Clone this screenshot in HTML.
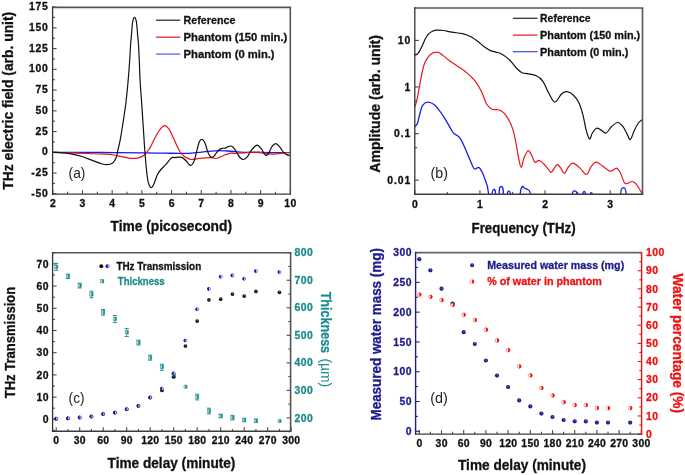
<!DOCTYPE html>
<html><head><meta charset="utf-8"><title>Figure</title>
<style>
html,body{margin:0;padding:0;background:#fff;}
body{width:685px;height:475px;overflow:hidden;font-family:"Liberation Sans", sans-serif;}
svg{display:block;will-change:transform;}
</style></head><body>
<svg width="685" height="475" viewBox="0 0 685 475" font-family='"Liberation Sans", sans-serif'>
<rect width="685" height="475" fill="#fff"/>
<line x1="52.8" y1="194.1" x2="52.8" y2="190.1" stroke="#4a4a4a" stroke-width="1.1"/>
<line x1="67.64" y1="194.1" x2="67.64" y2="191.8" stroke="#4a4a4a" stroke-width="1.1"/>
<line x1="82.49" y1="194.1" x2="82.49" y2="190.1" stroke="#4a4a4a" stroke-width="1.1"/>
<line x1="97.33" y1="194.1" x2="97.33" y2="191.8" stroke="#4a4a4a" stroke-width="1.1"/>
<line x1="112.17" y1="194.1" x2="112.17" y2="190.1" stroke="#4a4a4a" stroke-width="1.1"/>
<line x1="127.02" y1="194.1" x2="127.02" y2="191.8" stroke="#4a4a4a" stroke-width="1.1"/>
<line x1="141.86" y1="194.1" x2="141.86" y2="190.1" stroke="#4a4a4a" stroke-width="1.1"/>
<line x1="156.71" y1="194.1" x2="156.71" y2="191.8" stroke="#4a4a4a" stroke-width="1.1"/>
<line x1="171.55" y1="194.1" x2="171.55" y2="190.1" stroke="#4a4a4a" stroke-width="1.1"/>
<line x1="186.39" y1="194.1" x2="186.39" y2="191.8" stroke="#4a4a4a" stroke-width="1.1"/>
<line x1="201.24" y1="194.1" x2="201.24" y2="190.1" stroke="#4a4a4a" stroke-width="1.1"/>
<line x1="216.08" y1="194.1" x2="216.08" y2="191.8" stroke="#4a4a4a" stroke-width="1.1"/>
<line x1="230.93" y1="194.1" x2="230.93" y2="190.1" stroke="#4a4a4a" stroke-width="1.1"/>
<line x1="245.77" y1="194.1" x2="245.77" y2="191.8" stroke="#4a4a4a" stroke-width="1.1"/>
<line x1="260.61" y1="194.1" x2="260.61" y2="190.1" stroke="#4a4a4a" stroke-width="1.1"/>
<line x1="275.46" y1="194.1" x2="275.46" y2="191.8" stroke="#4a4a4a" stroke-width="1.1"/>
<line x1="290.3" y1="194.1" x2="290.3" y2="190.1" stroke="#4a4a4a" stroke-width="1.1"/>
<line x1="52.6" y1="193.79" x2="56.6" y2="193.79" stroke="#4a4a4a" stroke-width="1.1"/>
<line x1="52.6" y1="183.42" x2="54.9" y2="183.42" stroke="#4a4a4a" stroke-width="1.1"/>
<line x1="52.6" y1="173.04" x2="56.6" y2="173.04" stroke="#4a4a4a" stroke-width="1.1"/>
<line x1="52.6" y1="162.67" x2="54.9" y2="162.67" stroke="#4a4a4a" stroke-width="1.1"/>
<line x1="52.6" y1="152.3" x2="56.6" y2="152.3" stroke="#4a4a4a" stroke-width="1.1"/>
<line x1="52.6" y1="141.93" x2="54.9" y2="141.93" stroke="#4a4a4a" stroke-width="1.1"/>
<line x1="52.6" y1="131.56" x2="56.6" y2="131.56" stroke="#4a4a4a" stroke-width="1.1"/>
<line x1="52.6" y1="121.18" x2="54.9" y2="121.18" stroke="#4a4a4a" stroke-width="1.1"/>
<line x1="52.6" y1="110.81" x2="56.6" y2="110.81" stroke="#4a4a4a" stroke-width="1.1"/>
<line x1="52.6" y1="100.44" x2="54.9" y2="100.44" stroke="#4a4a4a" stroke-width="1.1"/>
<line x1="52.6" y1="90.07" x2="56.6" y2="90.07" stroke="#4a4a4a" stroke-width="1.1"/>
<line x1="52.6" y1="79.69" x2="54.9" y2="79.69" stroke="#4a4a4a" stroke-width="1.1"/>
<line x1="52.6" y1="69.32" x2="56.6" y2="69.32" stroke="#4a4a4a" stroke-width="1.1"/>
<line x1="52.6" y1="58.95" x2="54.9" y2="58.95" stroke="#4a4a4a" stroke-width="1.1"/>
<line x1="52.6" y1="48.58" x2="56.6" y2="48.58" stroke="#4a4a4a" stroke-width="1.1"/>
<line x1="52.6" y1="38.21" x2="54.9" y2="38.21" stroke="#4a4a4a" stroke-width="1.1"/>
<line x1="52.6" y1="27.83" x2="56.6" y2="27.83" stroke="#4a4a4a" stroke-width="1.1"/>
<line x1="52.6" y1="17.46" x2="54.9" y2="17.46" stroke="#4a4a4a" stroke-width="1.1"/>
<line x1="52.6" y1="7.09" x2="56.6" y2="7.09" stroke="#4a4a4a" stroke-width="1.1"/>
<text x="52.8" y="206.8" font-size="10.4" font-weight="bold" fill="#111" stroke="#111" stroke-width="0.3" text-anchor="middle">2</text>
<text x="82.49" y="206.8" font-size="10.4" font-weight="bold" fill="#111" stroke="#111" stroke-width="0.3" text-anchor="middle">3</text>
<text x="112.17" y="206.8" font-size="10.4" font-weight="bold" fill="#111" stroke="#111" stroke-width="0.3" text-anchor="middle">4</text>
<text x="141.86" y="206.8" font-size="10.4" font-weight="bold" fill="#111" stroke="#111" stroke-width="0.3" text-anchor="middle">5</text>
<text x="171.55" y="206.8" font-size="10.4" font-weight="bold" fill="#111" stroke="#111" stroke-width="0.3" text-anchor="middle">6</text>
<text x="201.24" y="206.8" font-size="10.4" font-weight="bold" fill="#111" stroke="#111" stroke-width="0.3" text-anchor="middle">7</text>
<text x="230.93" y="206.8" font-size="10.4" font-weight="bold" fill="#111" stroke="#111" stroke-width="0.3" text-anchor="middle">8</text>
<text x="260.61" y="206.8" font-size="10.4" font-weight="bold" fill="#111" stroke="#111" stroke-width="0.3" text-anchor="middle">9</text>
<text x="290.53" y="206.8" font-size="10.4" font-weight="bold" fill="#111" stroke="#111" stroke-width="0.3" text-anchor="middle" letter-spacing="0.45">10</text>
<text x="48.4" y="196.79" font-size="10.4" font-weight="bold" fill="#111" stroke="#111" stroke-width="0.3" text-anchor="end" letter-spacing="0.7">-50</text>
<text x="48.4" y="176.04" font-size="10.4" font-weight="bold" fill="#111" stroke="#111" stroke-width="0.3" text-anchor="end" letter-spacing="0.7">-25</text>
<text x="47.7" y="155.3" font-size="10.4" font-weight="bold" fill="#111" stroke="#111" stroke-width="0.3" text-anchor="end">0</text>
<text x="48.4" y="134.56" font-size="10.4" font-weight="bold" fill="#111" stroke="#111" stroke-width="0.3" text-anchor="end" letter-spacing="0.7">25</text>
<text x="48.4" y="113.81" font-size="10.4" font-weight="bold" fill="#111" stroke="#111" stroke-width="0.3" text-anchor="end" letter-spacing="0.7">50</text>
<text x="48.4" y="93.07" font-size="10.4" font-weight="bold" fill="#111" stroke="#111" stroke-width="0.3" text-anchor="end" letter-spacing="0.7">75</text>
<text x="48.4" y="72.32" font-size="10.4" font-weight="bold" fill="#111" stroke="#111" stroke-width="0.3" text-anchor="end" letter-spacing="0.7">100</text>
<text x="48.4" y="51.58" font-size="10.4" font-weight="bold" fill="#111" stroke="#111" stroke-width="0.3" text-anchor="end" letter-spacing="0.7">125</text>
<text x="48.4" y="30.83" font-size="10.4" font-weight="bold" fill="#111" stroke="#111" stroke-width="0.3" text-anchor="end" letter-spacing="0.7">150</text>
<text x="48.4" y="10.09" font-size="10.4" font-weight="bold" fill="#111" stroke="#111" stroke-width="0.3" text-anchor="end" letter-spacing="0.7">175</text>
<path d="M52.8,152.3 C60.67,152.33 84.63,152.4 100,152.5 C115.37,152.6 134.5,152.8 145,152.9 C155.5,153 156.33,153.02 163,153.1 C169.67,153.18 179.93,153.43 185,153.4 C190.07,153.37 190.6,153.12 193.4,152.9 C196.2,152.68 198.98,152.38 201.8,152.1 C204.62,151.82 207.48,151.45 210.3,151.2 C213.12,150.95 215.9,150.63 218.7,150.6 C221.5,150.57 224.38,150.83 227.1,151 C229.82,151.17 232.3,151.38 235,151.6 C237.7,151.82 239.13,152.15 243.3,152.3 C247.47,152.45 255.15,152.45 260,152.5 C264.85,152.55 268.52,152.58 272.4,152.6 C276.28,152.62 280.37,152.6 283.3,152.6 C286.23,152.6 288.88,152.6 290,152.6" fill="none" stroke="#1a1aee" stroke-width="1.3" stroke-linejoin="round" stroke-linecap="round"/>
<path d="M52.8,152.3 C55.67,152.4 64.3,152.7 70,152.9 C75.7,153.1 82,153.32 87,153.5 C92,153.68 96.17,153.87 100,154 C103.83,154.13 107.37,154.05 110,154.3 C112.63,154.55 113.85,155.12 115.8,155.5 C117.75,155.88 119.75,156.22 121.7,156.6 C123.65,156.98 125.55,157.5 127.5,157.8 C129.45,158.1 131.75,158.33 133.4,158.4 C135.05,158.47 136.13,158.45 137.4,158.2 C138.67,157.95 139.92,157.4 141,156.9 C142.08,156.4 143.03,155.92 143.9,155.2 C144.77,154.48 145.18,153.82 146.2,152.6 C147.22,151.38 148.62,150.22 150,147.9 C151.38,145.58 152.97,141.58 154.5,138.7 C156.03,135.82 157.55,132.77 159.2,130.6 C160.85,128.43 162.82,126.03 164.4,125.7 C165.98,125.37 167.35,126.9 168.7,128.6 C170.05,130.3 171.23,133.27 172.5,135.9 C173.77,138.53 175.03,141.72 176.3,144.4 C177.57,147.08 178.68,149.95 180.1,152 C181.52,154.05 183.42,155.6 184.8,156.7 C186.18,157.8 187.25,158.13 188.4,158.6 C189.55,159.07 190.17,159.5 191.7,159.5 C193.23,159.5 195.22,158.88 197.6,158.6 C199.98,158.32 203.47,157.93 206,157.8 C208.53,157.67 211.12,157.68 212.8,157.8 C214.48,157.92 214.83,158.65 216.1,158.5 C217.37,158.35 218.85,157.52 220.4,156.9 C221.95,156.28 223.72,155.43 225.4,154.8 C227.08,154.17 228.9,153.33 230.5,153.1 C232.1,152.87 232.87,153.43 235,153.4 C237.13,153.37 240.8,153.08 243.3,152.9 C245.8,152.72 247.63,152.43 250,152.3 C252.37,152.17 255.5,152.05 257.5,152.1 C259.5,152.15 260.48,152.4 262,152.6 C263.52,152.8 264.72,153.05 266.6,153.3 C268.48,153.55 271.08,154.07 273.3,154.1 C275.52,154.13 277.97,153.75 279.9,153.5 C281.83,153.25 283.22,152.77 284.9,152.6 C286.58,152.43 289.15,152.52 290,152.5" fill="none" stroke="#e8141c" stroke-width="1.2" stroke-linejoin="round" stroke-linecap="round"/>
<path d="M52.8,152.3 C54.33,152.38 59.22,152.58 62,152.8 C64.78,153.02 66.3,153.02 69.5,153.6 C72.7,154.18 77.3,155.13 81.2,156.3 C85.1,157.47 89.6,159.38 92.9,160.6 C96.2,161.82 98.67,162.92 101,163.6 C103.33,164.28 104.95,164.82 106.9,164.7 C108.85,164.58 111.18,164.02 112.7,162.9 C114.22,161.78 115.12,160.17 116,158 C116.88,155.83 117.28,153.02 118,149.9 C118.72,146.78 119.47,143.78 120.3,139.3 C121.13,134.82 122.05,129.22 123,123 C123.95,116.78 125.15,109 126,102 C126.85,95 127.52,87.45 128.1,81 C128.68,74.55 129.08,69.33 129.5,63.3 C129.92,57.27 130.25,49.82 130.6,44.8 C130.95,39.78 131.25,37.03 131.6,33.2 C131.95,29.37 132.22,24.45 132.7,21.8 C133.18,19.15 133.88,17.3 134.5,17.3 C135.12,17.3 135.9,19.15 136.4,21.8 C136.9,24.45 137.15,29.37 137.5,33.2 C137.85,37.03 138.18,39.78 138.5,44.8 C138.82,49.82 139.13,57.27 139.4,63.3 C139.67,69.33 139.73,74.55 140.1,81 C140.47,87.45 141.12,95 141.6,102 C142.08,109 142.58,116.67 143,123 C143.42,129.33 143.78,135.23 144.1,140 C144.42,144.77 144.52,146.77 144.9,151.6 C145.28,156.43 145.87,163.98 146.4,169 C146.93,174.02 147.33,178.58 148.1,181.7 C148.87,184.82 150.03,187.32 151,187.7 C151.97,188.08 152.83,186.15 153.9,184 C154.97,181.85 156.23,177.22 157.4,174.8 C158.57,172.38 159.55,171.15 160.9,169.5 C162.25,167.85 163.77,166.82 165.5,164.9 C167.23,162.98 169.75,159.22 171.3,158 C172.85,156.78 173.07,157.7 174.8,157.6 C176.53,157.5 179.83,156.87 181.7,157.4 C183.57,157.93 184.55,159.47 186,160.8 C187.45,162.13 189.17,165.07 190.4,165.4 C191.63,165.73 192.55,164.35 193.4,162.8 C194.25,161.25 194.87,158.33 195.5,156.1 C196.13,153.87 196.57,151.78 197.2,149.4 C197.83,147.02 198.53,143.48 199.3,141.8 C200.07,140.12 200.95,139.3 201.8,139.3 C202.65,139.3 203.62,140.4 204.4,141.8 C205.18,143.2 205.88,145.88 206.5,147.7 C207.12,149.52 207.47,151.23 208.1,152.7 C208.73,154.17 209.67,155.72 210.3,156.5 C210.93,157.28 211.28,157.47 211.9,157.4 C212.52,157.33 213.22,156.88 214,156.1 C214.78,155.32 215.68,153.8 216.6,152.7 C217.52,151.6 218.6,150.22 219.5,149.5 C220.4,148.78 221.02,148.63 222,148.4 C222.98,148.17 224.42,148.37 225.4,148.1 C226.38,147.83 227.05,147.15 227.9,146.8 C228.75,146.45 229.72,146 230.5,146 C231.28,146 231.85,146.2 232.6,146.8 C233.35,147.4 234.18,148.45 235,149.6 C235.82,150.75 236.67,152.38 237.5,153.7 C238.33,155.02 238.97,156.53 240,157.5 C241.03,158.47 242.45,159.65 243.7,159.5 C244.95,159.35 246.18,158.18 247.5,156.6 C248.82,155.02 250.02,151.92 251.6,150 C253.18,148.08 255.33,145.25 257,145.1 C258.67,144.95 260.42,147.67 261.6,149.1 C262.78,150.53 263.33,152.65 264.1,153.7 C264.87,154.75 265.43,155.47 266.2,155.4 C266.97,155.33 267.8,154.68 268.7,153.3 C269.6,151.92 270.42,148.7 271.6,147.1 C272.78,145.5 274.42,143.7 275.8,143.7 C277.18,143.7 278.65,145.7 279.9,147.1 C281.15,148.5 282.18,150.85 283.3,152.1 C284.42,153.35 285.48,154.05 286.6,154.6 C287.72,155.15 289.43,155.27 290,155.4" fill="none" stroke="#111" stroke-width="1.2" stroke-linejoin="round" stroke-linecap="round"/>
<line x1="155.9" y1="20.2" x2="180.3" y2="20.2" stroke="#222" stroke-width="1.2"/>
<text x="183.6" y="24.1" font-size="11.5" font-weight="bold" fill="#111" stroke="#111" stroke-width="0.3" textLength="51.8" lengthAdjust="spacingAndGlyphs">Reference</text>
<line x1="155.9" y1="37.2" x2="180.3" y2="37.2" stroke="#e8141c" stroke-width="1.2"/>
<text x="183.6" y="41.1" font-size="11.5" font-weight="bold" fill="#111" stroke="#111" stroke-width="0.3" textLength="103.7" lengthAdjust="spacingAndGlyphs">Phantom (150 min.)</text>
<line x1="155.9" y1="54.1" x2="180.3" y2="54.1" stroke="#4a5af0" stroke-width="1.2"/>
<text x="183.6" y="58" font-size="11.5" font-weight="bold" fill="#111" stroke="#111" stroke-width="0.3" textLength="91" lengthAdjust="spacingAndGlyphs">Phantom (0 min.)</text>
<text x="68.6" y="177.6" font-size="15" font-weight="normal" fill="#222" textLength="16.8" lengthAdjust="spacingAndGlyphs">(a)</text>
<text x="110.5" y="230.7" font-size="14" font-weight="bold" fill="#111" stroke="#111" stroke-width="0.3" textLength="121.5" lengthAdjust="spacingAndGlyphs">Time (picosecond)</text>
<text x="12.8" y="189.7" font-size="14" font-weight="bold" fill="#111" stroke="#111" stroke-width="0.3" textLength="177.9" lengthAdjust="spacingAndGlyphs" transform="rotate(-90 12.8 189.7)">THz electric field (arb. unit)</text>
<line x1="51.9" y1="7.4" x2="291.1" y2="7.4" stroke="#555" stroke-width="1.6"/>
<line x1="290.3" y1="7.4" x2="290.3" y2="194.1" stroke="#555" stroke-width="1.6"/>
<line x1="51.9" y1="194.1" x2="291.1" y2="194.1" stroke="#3c3c3c" stroke-width="1.4"/>
<line x1="52.6" y1="6.6" x2="52.6" y2="194.8" stroke="#333" stroke-width="1.3"/>
<line x1="414.8" y1="194.2" x2="414.8" y2="190.2" stroke="#4a4a4a" stroke-width="1.1"/>
<line x1="447.37" y1="194.2" x2="447.37" y2="191.9" stroke="#4a4a4a" stroke-width="1.1"/>
<line x1="479.93" y1="194.2" x2="479.93" y2="190.2" stroke="#4a4a4a" stroke-width="1.1"/>
<line x1="512.5" y1="194.2" x2="512.5" y2="191.9" stroke="#4a4a4a" stroke-width="1.1"/>
<line x1="545.06" y1="194.2" x2="545.06" y2="190.2" stroke="#4a4a4a" stroke-width="1.1"/>
<line x1="577.62" y1="194.2" x2="577.62" y2="191.9" stroke="#4a4a4a" stroke-width="1.1"/>
<line x1="610.19" y1="194.2" x2="610.19" y2="190.2" stroke="#4a4a4a" stroke-width="1.1"/>
<line x1="414.8" y1="180.2" x2="418.8" y2="180.2" stroke="#4a4a4a" stroke-width="1.1"/>
<line x1="414.8" y1="133.6" x2="418.8" y2="133.6" stroke="#4a4a4a" stroke-width="1.1"/>
<line x1="414.8" y1="87" x2="418.8" y2="87" stroke="#4a4a4a" stroke-width="1.1"/>
<line x1="414.8" y1="40.4" x2="418.8" y2="40.4" stroke="#4a4a4a" stroke-width="1.1"/>
<line x1="414.8" y1="147.63" x2="417.1" y2="147.63" stroke="#4a4a4a" stroke-width="1.1"/>
<line x1="414.8" y1="101.03" x2="417.1" y2="101.03" stroke="#4a4a4a" stroke-width="1.1"/>
<line x1="414.8" y1="54.43" x2="417.1" y2="54.43" stroke="#4a4a4a" stroke-width="1.1"/>
<text x="414.8" y="207.8" font-size="10.4" font-weight="bold" fill="#111" stroke="#111" stroke-width="0.3" text-anchor="middle">0</text>
<text x="479.93" y="207.8" font-size="10.4" font-weight="bold" fill="#111" stroke="#111" stroke-width="0.3" text-anchor="middle">1</text>
<text x="545.06" y="207.8" font-size="10.4" font-weight="bold" fill="#111" stroke="#111" stroke-width="0.3" text-anchor="middle">2</text>
<text x="610.19" y="207.8" font-size="10.4" font-weight="bold" fill="#111" stroke="#111" stroke-width="0.3" text-anchor="middle">3</text>
<text x="411.2" y="44" font-size="10.4" font-weight="bold" fill="#111" stroke="#111" stroke-width="0.3" text-anchor="end" letter-spacing="0.9">10</text>
<text x="410.3" y="90.6" font-size="10.4" font-weight="bold" fill="#111" stroke="#111" stroke-width="0.3" text-anchor="end">1</text>
<text x="411.2" y="137.2" font-size="10.4" font-weight="bold" fill="#111" stroke="#111" stroke-width="0.3" text-anchor="end" letter-spacing="0.9">0.1</text>
<text x="411.2" y="183.8" font-size="10.4" font-weight="bold" fill="#111" stroke="#111" stroke-width="0.3" text-anchor="end" letter-spacing="0.9">0.01</text>
<clipPath id="cb"><rect x="414.8" y="8" width="227.7" height="186.8"/></clipPath>
<g clip-path="url(#cb)">
<path d="M415,126.5 C415.43,125.9 416.75,125.18 417.6,122.9 C418.45,120.62 419.27,115.73 420.1,112.8 C420.93,109.87 421.33,107.08 422.6,105.3 C423.87,103.52 425.8,102.22 427.7,102.1 C429.6,101.98 431.95,103.05 434,104.6 C436.05,106.15 438.08,108.9 440,111.4 C441.92,113.9 443.67,116.63 445.5,119.6 C447.33,122.57 449.63,126.92 451,129.2 C452.37,131.48 452.57,132.17 453.7,133.3 C454.83,134.43 456.67,135.08 457.8,136 C458.93,136.92 459.58,137.43 460.5,138.8 C461.42,140.17 462.15,141.7 463.3,144.2 C464.45,146.7 466.03,150.6 467.4,153.8 C468.77,157 470.33,160.87 471.5,163.4 C472.67,165.93 473.2,168.35 474.4,169 C475.6,169.65 477.58,167.08 478.7,167.3 C479.82,167.52 480.35,169.12 481.1,170.3 C481.85,171.48 482.43,172.57 483.2,174.4 C483.97,176.23 485.02,179.37 485.7,181.3 C486.38,183.23 486.82,183.83 487.3,186 C487.78,188.17 488.38,192.92 488.6,194.3" fill="none" stroke="#1a1aee" stroke-width="1.3" stroke-linejoin="round" stroke-linecap="round"/>
<path d="M492.1,194.6 C492.4,190 492.7,189.4 493.9,189.4 C495.1,189.4 495.3,190 495.6,194.6" fill="none" stroke="#1a1aee" stroke-width="1.3" stroke-linejoin="round" stroke-linecap="round"/>
<path d="M499,194.6 C499.3,186.9 500,186.3 501.2,186.3 C502.4,186.3 503.2,186.9 503.5,194.6" fill="none" stroke="#1a1aee" stroke-width="1.3" stroke-linejoin="round" stroke-linecap="round"/>
<path d="M507.2,194.6 C507.5,191.7 507.6,191.1 508.8,191.1 C510,191.1 510.2,191.7 510.5,194.6" fill="none" stroke="#1a1aee" stroke-width="1.3" stroke-linejoin="round" stroke-linecap="round"/>
<path d="M572.2,194.6 C572.5,191.4 573.5,190.8 574.7,190.8 C575.9,190.8 576.8,191.4 577.1,194.6" fill="none" stroke="#1a1aee" stroke-width="1.3" stroke-linejoin="round" stroke-linecap="round"/>
<path d="M582.8,194.6 C583.1,192.1 583,191.5 584.2,191.5 C585.4,191.5 585.3,192.1 585.6,194.6" fill="none" stroke="#1a1aee" stroke-width="1.3" stroke-linejoin="round" stroke-linecap="round"/>
<path d="M590.3,194.6 C590.6,193.2 590.1,192.6 591.3,192.6 C592.5,192.6 592,193.2 592.3,194.6" fill="none" stroke="#1a1aee" stroke-width="1.3" stroke-linejoin="round" stroke-linecap="round"/>
<path d="M620.6,194.6 C620.9,188.2 622.2,187.6 623.4,187.6 C624.6,187.6 625.9,188.2 626.2,194.6" fill="none" stroke="#1a1aee" stroke-width="1.3" stroke-linejoin="round" stroke-linecap="round"/>
<path d="M520.1,194.6 C520.25,193.67 520.57,190.35 521,189 C521.43,187.65 522.08,186.62 522.7,186.5 C523.32,186.38 523.9,187.8 524.7,188.3 C525.5,188.8 526.7,189.05 527.5,189.5 C528.3,189.95 528.98,190.15 529.5,191 C530.02,191.85 530.42,194 530.6,194.6" fill="none" stroke="#1a1aee" stroke-width="1.3" stroke-linejoin="round" stroke-linecap="round"/>
<path d="M415,106.3 C415.32,105.28 416.27,102.9 416.9,100.2 C417.53,97.5 418.17,93.47 418.8,90.1 C419.43,86.73 419.85,84.15 420.7,80 C421.55,75.85 422.73,68.93 423.9,65.2 C425.07,61.47 426.33,59.6 427.7,57.6 C429.07,55.6 430.73,54.08 432.1,53.2 C433.47,52.32 434.58,52.3 435.9,52.3 C437.22,52.3 437.67,51.73 440,53.2 C442.33,54.67 446.85,58.85 449.9,61.1 C452.95,63.35 455.5,64.78 458.3,66.7 C461.1,68.62 463.88,70.2 466.7,72.6 C469.52,75 472.73,77.93 475.2,81.1 C477.67,84.27 479.58,87.75 481.5,91.6 C483.42,95.45 484.92,101.25 486.7,104.2 C488.48,107.15 490.23,108.38 492.2,109.3 C494.17,110.22 496.57,109.1 498.5,109.7 C500.43,110.3 502.05,111.13 503.8,112.9 C505.55,114.67 507.42,117.32 509,120.3 C510.58,123.28 512.07,126.6 513.3,130.8 C514.53,135 515.52,140.97 516.4,145.5 C517.28,150.03 517.8,154.35 518.6,158 C519.4,161.65 520.3,167.4 521.2,167.4 C522.1,167.4 522.83,160.8 524,158 C525.17,155.2 526.9,151 528.2,150.6 C529.5,150.2 530.7,153.67 531.8,155.6 C532.9,157.53 533.6,161.4 534.8,162.2 C536,163 537.5,160.1 539,160.4 C540.5,160.7 542.3,162.6 543.8,164 C545.3,165.4 546.77,167.4 548,168.8 C549.23,170.2 550.1,172.6 551.2,172.4 C552.3,172.2 553.53,168.9 554.6,167.6 C555.67,166.3 556.5,164.4 557.6,164.6 C558.7,164.8 560.07,167.33 561.2,168.8 C562.33,170.27 563.2,173.7 564.4,173.4 C565.6,173.1 566.98,168.7 568.4,167 C569.82,165.3 570.97,163.02 572.9,163.2 C574.83,163.38 577.77,166.22 580,168.1 C582.23,169.98 584.43,174.73 586.3,174.5 C588.17,174.27 589.55,168.75 591.2,166.7 C592.85,164.65 594.32,162.32 596.2,162.2 C598.08,162.08 600.15,164.5 602.5,166 C604.85,167.5 607.98,170.85 610.3,171.2 C612.62,171.55 614.75,167.92 616.4,168.1 C618.05,168.28 618.75,169.75 620.2,172.3 C621.65,174.85 623.1,181.87 625.1,183.4 C627.1,184.93 630.32,181.35 632.2,181.5 C634.08,181.65 634.88,182.53 636.4,184.3 C637.92,186.07 640.25,190.45 641.3,192.1 C642.35,193.75 642.47,193.85 642.7,194.2" fill="none" stroke="#e8141c" stroke-width="1.2" stroke-linejoin="round" stroke-linecap="round"/>
<path d="M415.1,55 C415.52,54.8 416.77,54.63 417.6,53.8 C418.43,52.97 419.27,51.47 420.1,50 C420.93,48.53 421.7,46.92 422.6,45 C423.5,43.08 424.47,40.38 425.5,38.5 C426.53,36.62 427.63,34.92 428.8,33.7 C429.97,32.48 431.08,31.8 432.5,31.2 C433.92,30.6 435.45,30.22 437.3,30.1 C439.15,29.98 441.15,30.15 443.6,30.5 C446.05,30.85 448.85,31.67 452,32.2 C455.15,32.73 459.35,32.93 462.5,33.7 C465.65,34.47 468.08,35.3 470.9,36.8 C473.72,38.3 477,40.9 479.4,42.7 C481.8,44.5 483.45,46.28 485.3,47.6 C487.15,48.92 488.75,49.85 490.5,50.6 C492.25,51.35 494.05,51.58 495.8,52.1 C497.55,52.62 499.25,52.87 501,53.7 C502.75,54.53 504.53,55.68 506.3,57.1 C508.07,58.52 509.85,60.3 511.6,62.2 C513.35,64.1 515.05,66.75 516.8,68.5 C518.55,70.25 520.33,71.83 522.1,72.7 C523.87,73.57 525.02,73.18 527.4,73.7 C529.78,74.22 533.85,74.57 536.4,75.8 C538.95,77.03 540.58,78.12 542.7,81.1 C544.82,84.08 547.07,90.2 549.1,93.7 C551.13,97.2 552.8,102.1 554.9,102.1 C557,102.1 559.65,95.45 561.7,93.7 C563.75,91.95 565.23,91.35 567.2,91.6 C569.17,91.85 571.57,93.37 573.5,95.2 C575.43,97.03 577.22,99.27 578.8,102.6 C580.38,105.93 581.78,110.65 583,115.2 C584.22,119.75 585.02,125.93 586.1,129.9 C587.18,133.87 588.45,138.48 589.5,139 C590.55,139.52 591.22,134.8 592.4,133 C593.58,131.2 595.2,128.72 596.6,128.2 C598,127.68 599.22,129.1 600.8,129.9 C602.38,130.7 604.33,133.53 606.1,133 C607.87,132.47 609.47,128.45 611.4,126.7 C613.33,124.95 615.77,122.5 617.7,122.5 C619.63,122.5 621.43,124.77 623,126.7 C624.57,128.63 625.87,131.97 627.1,134.1 C628.33,136.23 629.17,140.2 630.4,139.5 C631.63,138.8 633.12,132.73 634.5,129.9 C635.88,127.07 637.37,124.25 638.7,122.5 C640.03,120.75 641.87,119.92 642.5,119.4" fill="none" stroke="#111" stroke-width="1.2" stroke-linejoin="round" stroke-linecap="round"/>
</g>
<line x1="512.9" y1="18.3" x2="537.6" y2="18.3" stroke="#222" stroke-width="1.2"/>
<text x="540.1" y="22.3" font-size="11.5" font-weight="bold" fill="#111" stroke="#111" stroke-width="0.3" textLength="50.4" lengthAdjust="spacingAndGlyphs">Reference</text>
<line x1="512.9" y1="35.1" x2="537.6" y2="35.1" stroke="#e8141c" stroke-width="1.2"/>
<text x="540.1" y="39.1" font-size="11.5" font-weight="bold" fill="#111" stroke="#111" stroke-width="0.3" textLength="100.1" lengthAdjust="spacingAndGlyphs">Phantom (150 min.)</text>
<line x1="512.9" y1="51.7" x2="537.6" y2="51.7" stroke="#3a44ee" stroke-width="1.2"/>
<text x="540.1" y="55.7" font-size="11.5" font-weight="bold" fill="#111" stroke="#111" stroke-width="0.3" textLength="88.2" lengthAdjust="spacingAndGlyphs">Phantom (0 min.)</text>
<text x="430.6" y="177.8" font-size="15" font-weight="normal" fill="#222" textLength="17.4" lengthAdjust="spacingAndGlyphs">(b)</text>
<text x="471.6" y="232.7" font-size="14" font-weight="bold" fill="#111" stroke="#111" stroke-width="0.3" textLength="104" lengthAdjust="spacingAndGlyphs">Frequency (THz)</text>
<text x="380.2" y="172.7" font-size="14" font-weight="bold" fill="#111" stroke="#111" stroke-width="0.3" textLength="137.7" lengthAdjust="spacingAndGlyphs" transform="rotate(-90 380.2 172.7)">Amplitude (arb. unit)</text>
<line x1="414.1" y1="8" x2="643.3" y2="8" stroke="#555" stroke-width="1.6"/>
<line x1="642.5" y1="8" x2="642.5" y2="194.2" stroke="#555" stroke-width="1.6"/>
<line x1="414.1" y1="194.2" x2="643.3" y2="194.2" stroke="#3c3c3c" stroke-width="1.4"/>
<line x1="414.8" y1="7.2" x2="414.8" y2="194.9" stroke="#333" stroke-width="1.3"/>
<line x1="56.2" y1="431.2" x2="56.2" y2="427.2" stroke="#4a4a4a" stroke-width="1.1"/>
<line x1="67.95" y1="431.2" x2="67.95" y2="428.9" stroke="#4a4a4a" stroke-width="1.1"/>
<line x1="79.7" y1="431.2" x2="79.7" y2="427.2" stroke="#4a4a4a" stroke-width="1.1"/>
<line x1="91.45" y1="431.2" x2="91.45" y2="428.9" stroke="#4a4a4a" stroke-width="1.1"/>
<line x1="103.2" y1="431.2" x2="103.2" y2="427.2" stroke="#4a4a4a" stroke-width="1.1"/>
<line x1="114.95" y1="431.2" x2="114.95" y2="428.9" stroke="#4a4a4a" stroke-width="1.1"/>
<line x1="126.7" y1="431.2" x2="126.7" y2="427.2" stroke="#4a4a4a" stroke-width="1.1"/>
<line x1="138.45" y1="431.2" x2="138.45" y2="428.9" stroke="#4a4a4a" stroke-width="1.1"/>
<line x1="150.2" y1="431.2" x2="150.2" y2="427.2" stroke="#4a4a4a" stroke-width="1.1"/>
<line x1="161.95" y1="431.2" x2="161.95" y2="428.9" stroke="#4a4a4a" stroke-width="1.1"/>
<line x1="173.69" y1="431.2" x2="173.69" y2="427.2" stroke="#4a4a4a" stroke-width="1.1"/>
<line x1="185.44" y1="431.2" x2="185.44" y2="428.9" stroke="#4a4a4a" stroke-width="1.1"/>
<line x1="197.19" y1="431.2" x2="197.19" y2="427.2" stroke="#4a4a4a" stroke-width="1.1"/>
<line x1="208.94" y1="431.2" x2="208.94" y2="428.9" stroke="#4a4a4a" stroke-width="1.1"/>
<line x1="220.69" y1="431.2" x2="220.69" y2="427.2" stroke="#4a4a4a" stroke-width="1.1"/>
<line x1="232.44" y1="431.2" x2="232.44" y2="428.9" stroke="#4a4a4a" stroke-width="1.1"/>
<line x1="244.19" y1="431.2" x2="244.19" y2="427.2" stroke="#4a4a4a" stroke-width="1.1"/>
<line x1="255.94" y1="431.2" x2="255.94" y2="428.9" stroke="#4a4a4a" stroke-width="1.1"/>
<line x1="267.69" y1="431.2" x2="267.69" y2="427.2" stroke="#4a4a4a" stroke-width="1.1"/>
<line x1="279.44" y1="431.2" x2="279.44" y2="428.9" stroke="#4a4a4a" stroke-width="1.1"/>
<line x1="291.19" y1="431.2" x2="291.19" y2="427.2" stroke="#4a4a4a" stroke-width="1.1"/>
<line x1="52.6" y1="419.3" x2="56.6" y2="419.3" stroke="#4a4a4a" stroke-width="1.1"/>
<line x1="52.6" y1="408.2" x2="54.9" y2="408.2" stroke="#4a4a4a" stroke-width="1.1"/>
<line x1="52.6" y1="397.1" x2="56.6" y2="397.1" stroke="#4a4a4a" stroke-width="1.1"/>
<line x1="52.6" y1="386" x2="54.9" y2="386" stroke="#4a4a4a" stroke-width="1.1"/>
<line x1="52.6" y1="374.9" x2="56.6" y2="374.9" stroke="#4a4a4a" stroke-width="1.1"/>
<line x1="52.6" y1="363.8" x2="54.9" y2="363.8" stroke="#4a4a4a" stroke-width="1.1"/>
<line x1="52.6" y1="352.7" x2="56.6" y2="352.7" stroke="#4a4a4a" stroke-width="1.1"/>
<line x1="52.6" y1="341.6" x2="54.9" y2="341.6" stroke="#4a4a4a" stroke-width="1.1"/>
<line x1="52.6" y1="330.5" x2="56.6" y2="330.5" stroke="#4a4a4a" stroke-width="1.1"/>
<line x1="52.6" y1="319.4" x2="54.9" y2="319.4" stroke="#4a4a4a" stroke-width="1.1"/>
<line x1="52.6" y1="308.3" x2="56.6" y2="308.3" stroke="#4a4a4a" stroke-width="1.1"/>
<line x1="52.6" y1="297.2" x2="54.9" y2="297.2" stroke="#4a4a4a" stroke-width="1.1"/>
<line x1="52.6" y1="286.1" x2="56.6" y2="286.1" stroke="#4a4a4a" stroke-width="1.1"/>
<line x1="52.6" y1="275" x2="54.9" y2="275" stroke="#4a4a4a" stroke-width="1.1"/>
<line x1="52.6" y1="263.9" x2="56.6" y2="263.9" stroke="#4a4a4a" stroke-width="1.1"/>
<line x1="52.6" y1="252.8" x2="54.9" y2="252.8" stroke="#4a4a4a" stroke-width="1.1"/>
<line x1="52.6" y1="430.4" x2="54.9" y2="430.4" stroke="#4a4a4a" stroke-width="1.1"/>
<line x1="290.6" y1="417.9" x2="286.6" y2="417.9" stroke="#4a4a4a" stroke-width="1.1"/>
<line x1="290.6" y1="404.13" x2="288.3" y2="404.13" stroke="#4a4a4a" stroke-width="1.1"/>
<line x1="290.6" y1="390.37" x2="286.6" y2="390.37" stroke="#4a4a4a" stroke-width="1.1"/>
<line x1="290.6" y1="376.6" x2="288.3" y2="376.6" stroke="#4a4a4a" stroke-width="1.1"/>
<line x1="290.6" y1="362.84" x2="286.6" y2="362.84" stroke="#4a4a4a" stroke-width="1.1"/>
<line x1="290.6" y1="349.07" x2="288.3" y2="349.07" stroke="#4a4a4a" stroke-width="1.1"/>
<line x1="290.6" y1="335.31" x2="286.6" y2="335.31" stroke="#4a4a4a" stroke-width="1.1"/>
<line x1="290.6" y1="321.54" x2="288.3" y2="321.54" stroke="#4a4a4a" stroke-width="1.1"/>
<line x1="290.6" y1="307.78" x2="286.6" y2="307.78" stroke="#4a4a4a" stroke-width="1.1"/>
<line x1="290.6" y1="294.01" x2="288.3" y2="294.01" stroke="#4a4a4a" stroke-width="1.1"/>
<line x1="290.6" y1="280.25" x2="286.6" y2="280.25" stroke="#4a4a4a" stroke-width="1.1"/>
<line x1="290.6" y1="266.49" x2="288.3" y2="266.49" stroke="#4a4a4a" stroke-width="1.1"/>
<line x1="290.6" y1="252.72" x2="286.6" y2="252.72" stroke="#4a4a4a" stroke-width="1.1"/>
<line x1="290.6" y1="431.66" x2="288.3" y2="431.66" stroke="#4a4a4a" stroke-width="1.1"/>
<text x="56.2" y="443.9" font-size="10.4" font-weight="bold" fill="#111" stroke="#111" stroke-width="0.3" text-anchor="middle">0</text>
<text x="79.77" y="443.9" font-size="10.4" font-weight="bold" fill="#111" stroke="#111" stroke-width="0.3" text-anchor="middle" letter-spacing="0.15">30</text>
<text x="103.27" y="443.9" font-size="10.4" font-weight="bold" fill="#111" stroke="#111" stroke-width="0.3" text-anchor="middle" letter-spacing="0.15">60</text>
<text x="126.77" y="443.9" font-size="10.4" font-weight="bold" fill="#111" stroke="#111" stroke-width="0.3" text-anchor="middle" letter-spacing="0.15">90</text>
<text x="150.27" y="443.9" font-size="10.4" font-weight="bold" fill="#111" stroke="#111" stroke-width="0.3" text-anchor="middle" letter-spacing="0.15">120</text>
<text x="173.77" y="443.9" font-size="10.4" font-weight="bold" fill="#111" stroke="#111" stroke-width="0.3" text-anchor="middle" letter-spacing="0.15">150</text>
<text x="197.27" y="443.9" font-size="10.4" font-weight="bold" fill="#111" stroke="#111" stroke-width="0.3" text-anchor="middle" letter-spacing="0.15">180</text>
<text x="220.77" y="443.9" font-size="10.4" font-weight="bold" fill="#111" stroke="#111" stroke-width="0.3" text-anchor="middle" letter-spacing="0.15">210</text>
<text x="244.27" y="443.9" font-size="10.4" font-weight="bold" fill="#111" stroke="#111" stroke-width="0.3" text-anchor="middle" letter-spacing="0.15">240</text>
<text x="267.77" y="443.9" font-size="10.4" font-weight="bold" fill="#111" stroke="#111" stroke-width="0.3" text-anchor="middle" letter-spacing="0.15">270</text>
<text x="291.26" y="443.9" font-size="10.4" font-weight="bold" fill="#111" stroke="#111" stroke-width="0.3" text-anchor="middle" letter-spacing="0.15">300</text>
<text x="48.6" y="422.9" font-size="10.4" font-weight="bold" fill="#111" stroke="#111" stroke-width="0.3" text-anchor="end">0</text>
<text x="49.05" y="400.7" font-size="10.4" font-weight="bold" fill="#111" stroke="#111" stroke-width="0.3" text-anchor="end" letter-spacing="0.45">10</text>
<text x="49.05" y="378.5" font-size="10.4" font-weight="bold" fill="#111" stroke="#111" stroke-width="0.3" text-anchor="end" letter-spacing="0.45">20</text>
<text x="49.05" y="356.3" font-size="10.4" font-weight="bold" fill="#111" stroke="#111" stroke-width="0.3" text-anchor="end" letter-spacing="0.45">30</text>
<text x="49.05" y="334.1" font-size="10.4" font-weight="bold" fill="#111" stroke="#111" stroke-width="0.3" text-anchor="end" letter-spacing="0.45">40</text>
<text x="49.05" y="311.9" font-size="10.4" font-weight="bold" fill="#111" stroke="#111" stroke-width="0.3" text-anchor="end" letter-spacing="0.45">50</text>
<text x="49.05" y="289.7" font-size="10.4" font-weight="bold" fill="#111" stroke="#111" stroke-width="0.3" text-anchor="end" letter-spacing="0.45">60</text>
<text x="49.05" y="267.5" font-size="10.4" font-weight="bold" fill="#111" stroke="#111" stroke-width="0.3" text-anchor="end" letter-spacing="0.45">70</text>
<text x="294.6" y="421.5" font-size="10.4" font-weight="bold" fill="#1a8c8c" stroke="#1a8c8c" stroke-width="0.3" letter-spacing="0.45">200</text>
<text x="294.6" y="393.97" font-size="10.4" font-weight="bold" fill="#1a8c8c" stroke="#1a8c8c" stroke-width="0.3" letter-spacing="0.45">300</text>
<text x="294.6" y="366.44" font-size="10.4" font-weight="bold" fill="#1a8c8c" stroke="#1a8c8c" stroke-width="0.3" letter-spacing="0.45">400</text>
<text x="294.6" y="338.91" font-size="10.4" font-weight="bold" fill="#1a8c8c" stroke="#1a8c8c" stroke-width="0.3" letter-spacing="0.45">500</text>
<text x="294.6" y="311.38" font-size="10.4" font-weight="bold" fill="#1a8c8c" stroke="#1a8c8c" stroke-width="0.3" letter-spacing="0.45">600</text>
<text x="294.6" y="283.85" font-size="10.4" font-weight="bold" fill="#1a8c8c" stroke="#1a8c8c" stroke-width="0.3" letter-spacing="0.45">700</text>
<text x="294.6" y="256.32" font-size="10.4" font-weight="bold" fill="#1a8c8c" stroke="#1a8c8c" stroke-width="0.3" letter-spacing="0.45">800</text>
<line x1="56.2" y1="263.3" x2="56.2" y2="270.4" stroke="#1a8c8c" stroke-width="0.8"/>
<line x1="54.1" y1="263.3" x2="58.3" y2="263.3" stroke="#1a8c8c" stroke-width="0.9"/>
<line x1="54.1" y1="270.4" x2="58.3" y2="270.4" stroke="#1a8c8c" stroke-width="0.9"/>
<rect x="54.55" y="265.35" width="3.3" height="3.3" fill="#b4d8d8" stroke="#1a8c8c" stroke-width="0.45"/>
<rect x="56.2" y="265.35" width="1.65" height="3.3" fill="#1a8c8c"/>
<line x1="67.95" y1="274.1" x2="67.95" y2="278.5" stroke="#1a8c8c" stroke-width="0.8"/>
<line x1="65.85" y1="274.1" x2="70.05" y2="274.1" stroke="#1a8c8c" stroke-width="0.9"/>
<line x1="65.85" y1="278.5" x2="70.05" y2="278.5" stroke="#1a8c8c" stroke-width="0.9"/>
<rect x="66.3" y="274.35" width="3.3" height="3.3" fill="#b4d8d8" stroke="#1a8c8c" stroke-width="0.45"/>
<rect x="67.95" y="274.35" width="1.65" height="3.3" fill="#1a8c8c"/>
<line x1="79.7" y1="283.2" x2="79.7" y2="288" stroke="#1a8c8c" stroke-width="0.8"/>
<line x1="77.6" y1="283.2" x2="81.8" y2="283.2" stroke="#1a8c8c" stroke-width="0.9"/>
<line x1="77.6" y1="288" x2="81.8" y2="288" stroke="#1a8c8c" stroke-width="0.9"/>
<rect x="78.05" y="283.85" width="3.3" height="3.3" fill="#b4d8d8" stroke="#1a8c8c" stroke-width="0.45"/>
<rect x="79.7" y="283.85" width="1.65" height="3.3" fill="#1a8c8c"/>
<line x1="91.45" y1="291.2" x2="91.45" y2="297.8" stroke="#1a8c8c" stroke-width="0.8"/>
<line x1="89.35" y1="291.2" x2="93.55" y2="291.2" stroke="#1a8c8c" stroke-width="0.9"/>
<line x1="89.35" y1="297.8" x2="93.55" y2="297.8" stroke="#1a8c8c" stroke-width="0.9"/>
<rect x="89.8" y="292.75" width="3.3" height="3.3" fill="#b4d8d8" stroke="#1a8c8c" stroke-width="0.45"/>
<rect x="91.45" y="292.75" width="1.65" height="3.3" fill="#1a8c8c"/>
<line x1="103.2" y1="309.5" x2="103.2" y2="315.2" stroke="#1a8c8c" stroke-width="0.8"/>
<line x1="101.1" y1="309.5" x2="105.3" y2="309.5" stroke="#1a8c8c" stroke-width="0.9"/>
<line x1="101.1" y1="315.2" x2="105.3" y2="315.2" stroke="#1a8c8c" stroke-width="0.9"/>
<rect x="101.55" y="310.65" width="3.3" height="3.3" fill="#b4d8d8" stroke="#1a8c8c" stroke-width="0.45"/>
<rect x="103.2" y="310.65" width="1.65" height="3.3" fill="#1a8c8c"/>
<line x1="114.95" y1="315.5" x2="114.95" y2="322.6" stroke="#1a8c8c" stroke-width="0.8"/>
<line x1="112.85" y1="315.5" x2="117.05" y2="315.5" stroke="#1a8c8c" stroke-width="0.9"/>
<line x1="112.85" y1="322.6" x2="117.05" y2="322.6" stroke="#1a8c8c" stroke-width="0.9"/>
<rect x="113.3" y="317.35" width="3.3" height="3.3" fill="#b4d8d8" stroke="#1a8c8c" stroke-width="0.45"/>
<rect x="114.95" y="317.35" width="1.65" height="3.3" fill="#1a8c8c"/>
<line x1="126.7" y1="328.5" x2="126.7" y2="336.5" stroke="#1a8c8c" stroke-width="0.8"/>
<line x1="124.6" y1="328.5" x2="128.8" y2="328.5" stroke="#1a8c8c" stroke-width="0.9"/>
<line x1="124.6" y1="336.5" x2="128.8" y2="336.5" stroke="#1a8c8c" stroke-width="0.9"/>
<rect x="125.05" y="330.75" width="3.3" height="3.3" fill="#b4d8d8" stroke="#1a8c8c" stroke-width="0.45"/>
<rect x="126.7" y="330.75" width="1.65" height="3.3" fill="#1a8c8c"/>
<line x1="138.45" y1="340.2" x2="138.45" y2="345" stroke="#1a8c8c" stroke-width="0.8"/>
<line x1="136.35" y1="340.2" x2="140.55" y2="340.2" stroke="#1a8c8c" stroke-width="0.9"/>
<line x1="136.35" y1="345" x2="140.55" y2="345" stroke="#1a8c8c" stroke-width="0.9"/>
<rect x="136.8" y="340.85" width="3.3" height="3.3" fill="#b4d8d8" stroke="#1a8c8c" stroke-width="0.45"/>
<rect x="138.45" y="340.85" width="1.65" height="3.3" fill="#1a8c8c"/>
<line x1="150.2" y1="355.1" x2="150.2" y2="360.2" stroke="#1a8c8c" stroke-width="0.8"/>
<line x1="148.1" y1="355.1" x2="152.3" y2="355.1" stroke="#1a8c8c" stroke-width="0.9"/>
<line x1="148.1" y1="360.2" x2="152.3" y2="360.2" stroke="#1a8c8c" stroke-width="0.9"/>
<rect x="148.55" y="355.95" width="3.3" height="3.3" fill="#b4d8d8" stroke="#1a8c8c" stroke-width="0.45"/>
<rect x="150.2" y="355.95" width="1.65" height="3.3" fill="#1a8c8c"/>
<line x1="161.95" y1="364.2" x2="161.95" y2="370.3" stroke="#1a8c8c" stroke-width="0.8"/>
<line x1="159.85" y1="364.2" x2="164.05" y2="364.2" stroke="#1a8c8c" stroke-width="0.9"/>
<line x1="159.85" y1="370.3" x2="164.05" y2="370.3" stroke="#1a8c8c" stroke-width="0.9"/>
<rect x="160.3" y="365.45" width="3.3" height="3.3" fill="#b4d8d8" stroke="#1a8c8c" stroke-width="0.45"/>
<rect x="161.95" y="365.45" width="1.65" height="3.3" fill="#1a8c8c"/>
<line x1="173.69" y1="373.7" x2="173.69" y2="377.3" stroke="#1a8c8c" stroke-width="0.8"/>
<line x1="171.59" y1="373.7" x2="175.79" y2="373.7" stroke="#1a8c8c" stroke-width="0.9"/>
<line x1="171.59" y1="377.3" x2="175.79" y2="377.3" stroke="#1a8c8c" stroke-width="0.9"/>
<rect x="172.04" y="373.85" width="3.3" height="3.3" fill="#b4d8d8" stroke="#1a8c8c" stroke-width="0.45"/>
<rect x="173.69" y="373.85" width="1.65" height="3.3" fill="#1a8c8c"/>
<circle cx="185.44" cy="386.7" r="1.75" fill="#b4d8d8" stroke="#1a8c8c" stroke-width="0.45"/>
<path d="M185.44,384.7 A2,2 0 0 1 185.44,388.7 Z" fill="#1a8c8c"/>
<line x1="197.19" y1="394.2" x2="197.19" y2="399.9" stroke="#1a8c8c" stroke-width="0.8"/>
<line x1="195.09" y1="394.2" x2="199.29" y2="394.2" stroke="#1a8c8c" stroke-width="0.9"/>
<line x1="195.09" y1="399.9" x2="199.29" y2="399.9" stroke="#1a8c8c" stroke-width="0.9"/>
<rect x="195.54" y="395.25" width="3.3" height="3.3" fill="#b4d8d8" stroke="#1a8c8c" stroke-width="0.45"/>
<rect x="197.19" y="395.25" width="1.65" height="3.3" fill="#1a8c8c"/>
<line x1="208.94" y1="408.2" x2="208.94" y2="414" stroke="#1a8c8c" stroke-width="0.8"/>
<line x1="206.84" y1="408.2" x2="211.04" y2="408.2" stroke="#1a8c8c" stroke-width="0.9"/>
<line x1="206.84" y1="414" x2="211.04" y2="414" stroke="#1a8c8c" stroke-width="0.9"/>
<rect x="207.29" y="409.45" width="3.3" height="3.3" fill="#b4d8d8" stroke="#1a8c8c" stroke-width="0.45"/>
<rect x="208.94" y="409.45" width="1.65" height="3.3" fill="#1a8c8c"/>
<line x1="220.69" y1="414.2" x2="220.69" y2="417.8" stroke="#1a8c8c" stroke-width="0.8"/>
<line x1="218.59" y1="414.2" x2="222.79" y2="414.2" stroke="#1a8c8c" stroke-width="0.9"/>
<line x1="218.59" y1="417.8" x2="222.79" y2="417.8" stroke="#1a8c8c" stroke-width="0.9"/>
<rect x="219.04" y="414.35" width="3.3" height="3.3" fill="#b4d8d8" stroke="#1a8c8c" stroke-width="0.45"/>
<rect x="220.69" y="414.35" width="1.65" height="3.3" fill="#1a8c8c"/>
<line x1="232.44" y1="415.3" x2="232.44" y2="419.9" stroke="#1a8c8c" stroke-width="0.8"/>
<line x1="230.34" y1="415.3" x2="234.54" y2="415.3" stroke="#1a8c8c" stroke-width="0.9"/>
<line x1="230.34" y1="419.9" x2="234.54" y2="419.9" stroke="#1a8c8c" stroke-width="0.9"/>
<rect x="230.79" y="415.95" width="3.3" height="3.3" fill="#b4d8d8" stroke="#1a8c8c" stroke-width="0.45"/>
<rect x="232.44" y="415.95" width="1.65" height="3.3" fill="#1a8c8c"/>
<line x1="244.19" y1="418.2" x2="244.19" y2="421.8" stroke="#1a8c8c" stroke-width="0.8"/>
<line x1="242.09" y1="418.2" x2="246.29" y2="418.2" stroke="#1a8c8c" stroke-width="0.9"/>
<line x1="242.09" y1="421.8" x2="246.29" y2="421.8" stroke="#1a8c8c" stroke-width="0.9"/>
<rect x="242.54" y="418.35" width="3.3" height="3.3" fill="#b4d8d8" stroke="#1a8c8c" stroke-width="0.45"/>
<rect x="244.19" y="418.35" width="1.65" height="3.3" fill="#1a8c8c"/>
<line x1="255.94" y1="419" x2="255.94" y2="422.6" stroke="#1a8c8c" stroke-width="0.8"/>
<line x1="253.84" y1="419" x2="258.04" y2="419" stroke="#1a8c8c" stroke-width="0.9"/>
<line x1="253.84" y1="422.6" x2="258.04" y2="422.6" stroke="#1a8c8c" stroke-width="0.9"/>
<rect x="254.29" y="419.15" width="3.3" height="3.3" fill="#b4d8d8" stroke="#1a8c8c" stroke-width="0.45"/>
<rect x="255.94" y="419.15" width="1.65" height="3.3" fill="#1a8c8c"/>
<circle cx="279.44" cy="421.1" r="1.75" fill="#b4d8d8" stroke="#1a8c8c" stroke-width="0.45"/>
<path d="M279.44,419.1 A2,2 0 0 1 279.44,423.1 Z" fill="#1a8c8c"/>
<circle cx="56.2" cy="418.8" r="1.85" fill="#151515"/>
<circle cx="56.4" cy="418.3" r="0.61" fill="#777"/>
<circle cx="56.2" cy="418.6" r="1.55" fill="#dcdcf6" stroke="#1010b0" stroke-width="0.45"/>
<path d="M56.2,416.8 A1.8,1.8 0 0 0 56.2,420.4 Z" fill="#1010b0"/>
<circle cx="67.95" cy="418.4" r="1.85" fill="#151515"/>
<circle cx="68.15" cy="417.9" r="0.61" fill="#777"/>
<circle cx="67.95" cy="418.2" r="1.55" fill="#dcdcf6" stroke="#1010b0" stroke-width="0.45"/>
<path d="M67.95,416.4 A1.8,1.8 0 0 0 67.95,420 Z" fill="#1010b0"/>
<circle cx="79.7" cy="417.6" r="1.85" fill="#151515"/>
<circle cx="79.9" cy="417.1" r="0.61" fill="#777"/>
<circle cx="79.7" cy="417.4" r="1.55" fill="#dcdcf6" stroke="#1010b0" stroke-width="0.45"/>
<path d="M79.7,415.6 A1.8,1.8 0 0 0 79.7,419.2 Z" fill="#1010b0"/>
<circle cx="91.45" cy="416.6" r="1.85" fill="#151515"/>
<circle cx="91.65" cy="416.1" r="0.61" fill="#777"/>
<circle cx="91.45" cy="416.4" r="1.55" fill="#dcdcf6" stroke="#1010b0" stroke-width="0.45"/>
<path d="M91.45,414.6 A1.8,1.8 0 0 0 91.45,418.2 Z" fill="#1010b0"/>
<circle cx="103.2" cy="414.1" r="1.85" fill="#151515"/>
<circle cx="103.4" cy="413.6" r="0.61" fill="#777"/>
<circle cx="103.2" cy="413.9" r="1.55" fill="#dcdcf6" stroke="#1010b0" stroke-width="0.45"/>
<path d="M103.2,412.1 A1.8,1.8 0 0 0 103.2,415.7 Z" fill="#1010b0"/>
<circle cx="114.95" cy="412.7" r="1.85" fill="#151515"/>
<circle cx="115.15" cy="412.2" r="0.61" fill="#777"/>
<circle cx="114.95" cy="412.5" r="1.55" fill="#dcdcf6" stroke="#1010b0" stroke-width="0.45"/>
<path d="M114.95,410.7 A1.8,1.8 0 0 0 114.95,414.3 Z" fill="#1010b0"/>
<circle cx="126.7" cy="409.3" r="1.85" fill="#151515"/>
<circle cx="126.9" cy="408.8" r="0.61" fill="#777"/>
<circle cx="126.7" cy="409.1" r="1.55" fill="#dcdcf6" stroke="#1010b0" stroke-width="0.45"/>
<path d="M126.7,407.3 A1.8,1.8 0 0 0 126.7,410.9 Z" fill="#1010b0"/>
<circle cx="138.45" cy="405.9" r="1.85" fill="#151515"/>
<circle cx="138.65" cy="405.4" r="0.61" fill="#777"/>
<circle cx="138.45" cy="405.7" r="1.55" fill="#dcdcf6" stroke="#1010b0" stroke-width="0.45"/>
<path d="M138.45,403.9 A1.8,1.8 0 0 0 138.45,407.5 Z" fill="#1010b0"/>
<circle cx="150.2" cy="397.6" r="1.85" fill="#151515"/>
<circle cx="150.4" cy="397.1" r="0.61" fill="#777"/>
<circle cx="150.2" cy="397.4" r="1.55" fill="#dcdcf6" stroke="#1010b0" stroke-width="0.45"/>
<path d="M150.2,395.6 A1.8,1.8 0 0 0 150.2,399.2 Z" fill="#1010b0"/>
<circle cx="161.95" cy="390.4" r="1.85" fill="#151515"/>
<circle cx="162.15" cy="389.9" r="0.61" fill="#777"/>
<circle cx="161.95" cy="388.6" r="1.55" fill="#dcdcf6" stroke="#1010b0" stroke-width="0.45"/>
<path d="M161.95,386.8 A1.8,1.8 0 0 0 161.95,390.4 Z" fill="#1010b0"/>
<circle cx="173.69" cy="377" r="1.85" fill="#151515"/>
<circle cx="173.89" cy="376.5" r="0.61" fill="#777"/>
<circle cx="173.69" cy="373.2" r="1.55" fill="#dcdcf6" stroke="#1010b0" stroke-width="0.45"/>
<path d="M173.69,371.4 A1.8,1.8 0 0 0 173.69,375 Z" fill="#1010b0"/>
<circle cx="185.44" cy="346" r="1.85" fill="#151515"/>
<circle cx="185.64" cy="345.5" r="0.61" fill="#777"/>
<circle cx="185.44" cy="340.5" r="1.55" fill="#dcdcf6" stroke="#1010b0" stroke-width="0.45"/>
<path d="M185.44,338.7 A1.8,1.8 0 0 0 185.44,342.3 Z" fill="#1010b0"/>
<circle cx="197.19" cy="321.1" r="1.85" fill="#151515"/>
<circle cx="197.39" cy="320.6" r="0.61" fill="#777"/>
<circle cx="197.19" cy="309.3" r="1.55" fill="#dcdcf6" stroke="#1010b0" stroke-width="0.45"/>
<path d="M197.19,307.5 A1.8,1.8 0 0 0 197.19,311.1 Z" fill="#1010b0"/>
<circle cx="208.94" cy="299.8" r="1.85" fill="#151515"/>
<circle cx="209.14" cy="299.3" r="0.61" fill="#777"/>
<circle cx="208.94" cy="288.9" r="1.55" fill="#dcdcf6" stroke="#1010b0" stroke-width="0.45"/>
<path d="M208.94,287.1 A1.8,1.8 0 0 0 208.94,290.7 Z" fill="#1010b0"/>
<circle cx="220.69" cy="299.2" r="1.85" fill="#151515"/>
<circle cx="220.89" cy="298.7" r="0.61" fill="#777"/>
<circle cx="220.69" cy="276.8" r="1.55" fill="#dcdcf6" stroke="#1010b0" stroke-width="0.45"/>
<path d="M220.69,275 A1.8,1.8 0 0 0 220.69,278.6 Z" fill="#1010b0"/>
<circle cx="232.44" cy="294.1" r="1.85" fill="#151515"/>
<circle cx="232.64" cy="293.6" r="0.61" fill="#777"/>
<circle cx="232.44" cy="275.4" r="1.55" fill="#dcdcf6" stroke="#1010b0" stroke-width="0.45"/>
<path d="M232.44,273.6 A1.8,1.8 0 0 0 232.44,277.2 Z" fill="#1010b0"/>
<circle cx="244.19" cy="296.1" r="1.85" fill="#151515"/>
<circle cx="244.39" cy="295.6" r="0.61" fill="#777"/>
<circle cx="244.19" cy="278.8" r="1.55" fill="#dcdcf6" stroke="#1010b0" stroke-width="0.45"/>
<path d="M244.19,277 A1.8,1.8 0 0 0 244.19,280.6 Z" fill="#1010b0"/>
<circle cx="255.94" cy="291.4" r="1.85" fill="#151515"/>
<circle cx="256.14" cy="290.9" r="0.61" fill="#777"/>
<circle cx="255.94" cy="271.1" r="1.55" fill="#dcdcf6" stroke="#1010b0" stroke-width="0.45"/>
<path d="M255.94,269.3 A1.8,1.8 0 0 0 255.94,272.9 Z" fill="#1010b0"/>
<circle cx="279.44" cy="292.3" r="1.85" fill="#151515"/>
<circle cx="279.64" cy="291.8" r="0.61" fill="#777"/>
<circle cx="279.44" cy="272.1" r="1.55" fill="#dcdcf6" stroke="#1010b0" stroke-width="0.45"/>
<path d="M279.44,270.3 A1.8,1.8 0 0 0 279.44,273.9 Z" fill="#1010b0"/>
<circle cx="101.3" cy="266.3" r="2" fill="#151515"/>
<circle cx="107.6" cy="266.2" r="1.65" fill="#b8b8ee" stroke="#0c0cb0" stroke-width="0.45"/>
<path d="M107.6,264.3 A1.9,1.9 0 0 0 107.6,268.1 Z" fill="#0c0cb0"/>
<rect x="100.55" y="279.65" width="3.3" height="3.3" fill="#b4d8d8" stroke="#1a8c8c" stroke-width="0.45"/>
<rect x="102.2" y="279.65" width="1.65" height="3.3" fill="#1a8c8c"/>
<text x="116.4" y="269.9" font-size="11.5" font-weight="bold" fill="#111" stroke="#111" stroke-width="0.3" textLength="84.8" lengthAdjust="spacingAndGlyphs">THz Transmission</text>
<text x="117.8" y="284.9" font-size="11.5" font-weight="bold" fill="#1a8c8c" stroke="#1a8c8c" stroke-width="0.3" textLength="46.9" lengthAdjust="spacingAndGlyphs">Thickness</text>
<text x="68.6" y="403.4" font-size="15" font-weight="normal" fill="#222" textLength="16" lengthAdjust="spacingAndGlyphs">(c)</text>
<text x="107.6" y="468" font-size="14" font-weight="bold" fill="#111" stroke="#111" stroke-width="0.3" textLength="127.8" lengthAdjust="spacingAndGlyphs">Time delay (minute)</text>
<text x="15" y="398.3" font-size="14" font-weight="bold" fill="#111" stroke="#111" stroke-width="0.3" textLength="111.6" lengthAdjust="spacingAndGlyphs" transform="rotate(-90 15 398.3)">THz Transmission</text>
<text x="321.1" y="291.7" font-size="14" font-weight="bold" fill="#1a8c8c" stroke="#1a8c8c" stroke-width="0.3" textLength="61.4" lengthAdjust="spacingAndGlyphs" transform="rotate(90 321.1 291.7)">Thickness</text>
<text x="321.1" y="358.5" font-size="14" font-weight="normal" fill="#1a8c8c" textLength="28.7" lengthAdjust="spacingAndGlyphs" transform="rotate(90 321.1 358.5)">(µm)</text>
<line x1="51.9" y1="252.8" x2="291.4" y2="252.8" stroke="#555" stroke-width="1.6"/>
<line x1="290.6" y1="252.8" x2="290.6" y2="431.2" stroke="#555" stroke-width="1.6"/>
<line x1="51.9" y1="431.2" x2="291.4" y2="431.2" stroke="#3c3c3c" stroke-width="1.4"/>
<line x1="52.6" y1="252" x2="52.6" y2="431.9" stroke="#333" stroke-width="1.3"/>
<line x1="419.3" y1="434.1" x2="419.3" y2="430.1" stroke="#4a4a4a" stroke-width="1.1"/>
<line x1="430.4" y1="434.1" x2="430.4" y2="431.8" stroke="#4a4a4a" stroke-width="1.1"/>
<line x1="441.5" y1="434.1" x2="441.5" y2="430.1" stroke="#4a4a4a" stroke-width="1.1"/>
<line x1="452.6" y1="434.1" x2="452.6" y2="431.8" stroke="#4a4a4a" stroke-width="1.1"/>
<line x1="463.7" y1="434.1" x2="463.7" y2="430.1" stroke="#4a4a4a" stroke-width="1.1"/>
<line x1="474.8" y1="434.1" x2="474.8" y2="431.8" stroke="#4a4a4a" stroke-width="1.1"/>
<line x1="485.9" y1="434.1" x2="485.9" y2="430.1" stroke="#4a4a4a" stroke-width="1.1"/>
<line x1="497" y1="434.1" x2="497" y2="431.8" stroke="#4a4a4a" stroke-width="1.1"/>
<line x1="508.1" y1="434.1" x2="508.1" y2="430.1" stroke="#4a4a4a" stroke-width="1.1"/>
<line x1="519.2" y1="434.1" x2="519.2" y2="431.8" stroke="#4a4a4a" stroke-width="1.1"/>
<line x1="530.3" y1="434.1" x2="530.3" y2="430.1" stroke="#4a4a4a" stroke-width="1.1"/>
<line x1="541.4" y1="434.1" x2="541.4" y2="431.8" stroke="#4a4a4a" stroke-width="1.1"/>
<line x1="552.5" y1="434.1" x2="552.5" y2="430.1" stroke="#4a4a4a" stroke-width="1.1"/>
<line x1="563.6" y1="434.1" x2="563.6" y2="431.8" stroke="#4a4a4a" stroke-width="1.1"/>
<line x1="574.7" y1="434.1" x2="574.7" y2="430.1" stroke="#4a4a4a" stroke-width="1.1"/>
<line x1="585.8" y1="434.1" x2="585.8" y2="431.8" stroke="#4a4a4a" stroke-width="1.1"/>
<line x1="596.9" y1="434.1" x2="596.9" y2="430.1" stroke="#4a4a4a" stroke-width="1.1"/>
<line x1="608" y1="434.1" x2="608" y2="431.8" stroke="#4a4a4a" stroke-width="1.1"/>
<line x1="619.1" y1="434.1" x2="619.1" y2="430.1" stroke="#4a4a4a" stroke-width="1.1"/>
<line x1="630.2" y1="434.1" x2="630.2" y2="431.8" stroke="#4a4a4a" stroke-width="1.1"/>
<line x1="641.3" y1="434.1" x2="641.3" y2="430.1" stroke="#4a4a4a" stroke-width="1.1"/>
<line x1="415.6" y1="431.3" x2="419.6" y2="431.3" stroke="#1c1c8a" stroke-width="1.1"/>
<line x1="415.6" y1="416.41" x2="417.9" y2="416.41" stroke="#1c1c8a" stroke-width="1.1"/>
<line x1="415.6" y1="401.52" x2="419.6" y2="401.52" stroke="#1c1c8a" stroke-width="1.1"/>
<line x1="415.6" y1="386.62" x2="417.9" y2="386.62" stroke="#1c1c8a" stroke-width="1.1"/>
<line x1="415.6" y1="371.73" x2="419.6" y2="371.73" stroke="#1c1c8a" stroke-width="1.1"/>
<line x1="415.6" y1="356.84" x2="417.9" y2="356.84" stroke="#1c1c8a" stroke-width="1.1"/>
<line x1="415.6" y1="341.95" x2="419.6" y2="341.95" stroke="#1c1c8a" stroke-width="1.1"/>
<line x1="415.6" y1="327.06" x2="417.9" y2="327.06" stroke="#1c1c8a" stroke-width="1.1"/>
<line x1="415.6" y1="312.17" x2="419.6" y2="312.17" stroke="#1c1c8a" stroke-width="1.1"/>
<line x1="415.6" y1="297.27" x2="417.9" y2="297.27" stroke="#1c1c8a" stroke-width="1.1"/>
<line x1="415.6" y1="282.38" x2="419.6" y2="282.38" stroke="#1c1c8a" stroke-width="1.1"/>
<line x1="415.6" y1="267.49" x2="417.9" y2="267.49" stroke="#1c1c8a" stroke-width="1.1"/>
<line x1="415.6" y1="252.6" x2="419.6" y2="252.6" stroke="#1c1c8a" stroke-width="1.1"/>
<line x1="641.6" y1="434.1" x2="637.6" y2="434.1" stroke="#ee1111" stroke-width="1.1"/>
<line x1="641.6" y1="425.03" x2="639.3" y2="425.03" stroke="#ee1111" stroke-width="1.1"/>
<line x1="641.6" y1="415.95" x2="637.6" y2="415.95" stroke="#ee1111" stroke-width="1.1"/>
<line x1="641.6" y1="406.88" x2="639.3" y2="406.88" stroke="#ee1111" stroke-width="1.1"/>
<line x1="641.6" y1="397.8" x2="637.6" y2="397.8" stroke="#ee1111" stroke-width="1.1"/>
<line x1="641.6" y1="388.73" x2="639.3" y2="388.73" stroke="#ee1111" stroke-width="1.1"/>
<line x1="641.6" y1="379.65" x2="637.6" y2="379.65" stroke="#ee1111" stroke-width="1.1"/>
<line x1="641.6" y1="370.57" x2="639.3" y2="370.57" stroke="#ee1111" stroke-width="1.1"/>
<line x1="641.6" y1="361.5" x2="637.6" y2="361.5" stroke="#ee1111" stroke-width="1.1"/>
<line x1="641.6" y1="352.43" x2="639.3" y2="352.43" stroke="#ee1111" stroke-width="1.1"/>
<line x1="641.6" y1="343.35" x2="637.6" y2="343.35" stroke="#ee1111" stroke-width="1.1"/>
<line x1="641.6" y1="334.27" x2="639.3" y2="334.27" stroke="#ee1111" stroke-width="1.1"/>
<line x1="641.6" y1="325.2" x2="637.6" y2="325.2" stroke="#ee1111" stroke-width="1.1"/>
<line x1="641.6" y1="316.12" x2="639.3" y2="316.12" stroke="#ee1111" stroke-width="1.1"/>
<line x1="641.6" y1="307.05" x2="637.6" y2="307.05" stroke="#ee1111" stroke-width="1.1"/>
<line x1="641.6" y1="297.98" x2="639.3" y2="297.98" stroke="#ee1111" stroke-width="1.1"/>
<line x1="641.6" y1="288.9" x2="637.6" y2="288.9" stroke="#ee1111" stroke-width="1.1"/>
<line x1="641.6" y1="279.82" x2="639.3" y2="279.82" stroke="#ee1111" stroke-width="1.1"/>
<line x1="641.6" y1="270.75" x2="637.6" y2="270.75" stroke="#ee1111" stroke-width="1.1"/>
<line x1="641.6" y1="261.67" x2="639.3" y2="261.67" stroke="#ee1111" stroke-width="1.1"/>
<line x1="641.6" y1="252.6" x2="637.6" y2="252.6" stroke="#ee1111" stroke-width="1.1"/>
<text x="419.3" y="446.6" font-size="10.4" font-weight="bold" fill="#111" stroke="#111" stroke-width="0.3" text-anchor="middle">0</text>
<text x="441.65" y="446.6" font-size="10.4" font-weight="bold" fill="#111" stroke="#111" stroke-width="0.3" text-anchor="middle" letter-spacing="0.3">30</text>
<text x="463.85" y="446.6" font-size="10.4" font-weight="bold" fill="#111" stroke="#111" stroke-width="0.3" text-anchor="middle" letter-spacing="0.3">60</text>
<text x="486.05" y="446.6" font-size="10.4" font-weight="bold" fill="#111" stroke="#111" stroke-width="0.3" text-anchor="middle" letter-spacing="0.3">90</text>
<text x="508.25" y="446.6" font-size="10.4" font-weight="bold" fill="#111" stroke="#111" stroke-width="0.3" text-anchor="middle" letter-spacing="0.3">120</text>
<text x="530.45" y="446.6" font-size="10.4" font-weight="bold" fill="#111" stroke="#111" stroke-width="0.3" text-anchor="middle" letter-spacing="0.3">150</text>
<text x="552.65" y="446.6" font-size="10.4" font-weight="bold" fill="#111" stroke="#111" stroke-width="0.3" text-anchor="middle" letter-spacing="0.3">180</text>
<text x="574.85" y="446.6" font-size="10.4" font-weight="bold" fill="#111" stroke="#111" stroke-width="0.3" text-anchor="middle" letter-spacing="0.3">210</text>
<text x="597.05" y="446.6" font-size="10.4" font-weight="bold" fill="#111" stroke="#111" stroke-width="0.3" text-anchor="middle" letter-spacing="0.3">240</text>
<text x="619.25" y="446.6" font-size="10.4" font-weight="bold" fill="#111" stroke="#111" stroke-width="0.3" text-anchor="middle" letter-spacing="0.3">270</text>
<text x="641.45" y="446.6" font-size="10.4" font-weight="bold" fill="#111" stroke="#111" stroke-width="0.3" text-anchor="middle" letter-spacing="0.3">300</text>
<text x="411.6" y="434.9" font-size="10.4" font-weight="bold" fill="#1c1c8a" stroke="#1c1c8a" stroke-width="0.3" text-anchor="end">0</text>
<text x="412.05" y="405.12" font-size="10.4" font-weight="bold" fill="#1c1c8a" stroke="#1c1c8a" stroke-width="0.3" text-anchor="end" letter-spacing="0.45">50</text>
<text x="412.05" y="375.33" font-size="10.4" font-weight="bold" fill="#1c1c8a" stroke="#1c1c8a" stroke-width="0.3" text-anchor="end" letter-spacing="0.45">100</text>
<text x="412.05" y="345.55" font-size="10.4" font-weight="bold" fill="#1c1c8a" stroke="#1c1c8a" stroke-width="0.3" text-anchor="end" letter-spacing="0.45">150</text>
<text x="412.05" y="315.77" font-size="10.4" font-weight="bold" fill="#1c1c8a" stroke="#1c1c8a" stroke-width="0.3" text-anchor="end" letter-spacing="0.45">200</text>
<text x="412.05" y="285.98" font-size="10.4" font-weight="bold" fill="#1c1c8a" stroke="#1c1c8a" stroke-width="0.3" text-anchor="end" letter-spacing="0.45">250</text>
<text x="412.05" y="256.2" font-size="10.4" font-weight="bold" fill="#1c1c8a" stroke="#1c1c8a" stroke-width="0.3" text-anchor="end" letter-spacing="0.45">300</text>
<text x="646" y="437.7" font-size="10.4" font-weight="bold" fill="#ee1111" stroke="#ee1111" stroke-width="0.3">0</text>
<text x="646" y="419.55" font-size="10.4" font-weight="bold" fill="#ee1111" stroke="#ee1111" stroke-width="0.3" letter-spacing="0.45">10</text>
<text x="646" y="401.4" font-size="10.4" font-weight="bold" fill="#ee1111" stroke="#ee1111" stroke-width="0.3" letter-spacing="0.45">20</text>
<text x="646" y="383.25" font-size="10.4" font-weight="bold" fill="#ee1111" stroke="#ee1111" stroke-width="0.3" letter-spacing="0.45">30</text>
<text x="646" y="365.1" font-size="10.4" font-weight="bold" fill="#ee1111" stroke="#ee1111" stroke-width="0.3" letter-spacing="0.45">40</text>
<text x="646" y="346.95" font-size="10.4" font-weight="bold" fill="#ee1111" stroke="#ee1111" stroke-width="0.3" letter-spacing="0.45">50</text>
<text x="646" y="328.8" font-size="10.4" font-weight="bold" fill="#ee1111" stroke="#ee1111" stroke-width="0.3" letter-spacing="0.45">60</text>
<text x="646" y="310.65" font-size="10.4" font-weight="bold" fill="#ee1111" stroke="#ee1111" stroke-width="0.3" letter-spacing="0.45">70</text>
<text x="646" y="292.5" font-size="10.4" font-weight="bold" fill="#ee1111" stroke="#ee1111" stroke-width="0.3" letter-spacing="0.45">80</text>
<text x="646" y="274.35" font-size="10.4" font-weight="bold" fill="#ee1111" stroke="#ee1111" stroke-width="0.3" letter-spacing="0.45">90</text>
<text x="646" y="256.2" font-size="10.4" font-weight="bold" fill="#ee1111" stroke="#ee1111" stroke-width="0.3" letter-spacing="0.45">100</text>
<circle cx="419.3" cy="259.2" r="2.1" fill="#1c1c8a"/>
<circle cx="419.5" cy="258.7" r="0.69" fill="#7070b0"/>
<circle cx="419.3" cy="294.6" r="1.85" fill="#fff" stroke="#ee1111" stroke-width="0.45"/>
<path d="M419.3,292.5 A2.1,2.1 0 0 1 419.3,296.7 Z" fill="#ee1111"/>
<circle cx="430.4" cy="270.3" r="2.1" fill="#1c1c8a"/>
<circle cx="430.6" cy="269.8" r="0.69" fill="#7070b0"/>
<circle cx="430.4" cy="296.8" r="1.85" fill="#fff" stroke="#ee1111" stroke-width="0.45"/>
<path d="M430.4,294.7 A2.1,2.1 0 0 1 430.4,298.9 Z" fill="#ee1111"/>
<circle cx="441.5" cy="288.7" r="2.1" fill="#1c1c8a"/>
<circle cx="441.7" cy="288.2" r="0.69" fill="#7070b0"/>
<circle cx="441.5" cy="300.2" r="1.85" fill="#fff" stroke="#ee1111" stroke-width="0.45"/>
<path d="M441.5,298.1 A2.1,2.1 0 0 1 441.5,302.3 Z" fill="#ee1111"/>
<circle cx="452.6" cy="303.6" r="2.1" fill="#1c1c8a"/>
<circle cx="452.8" cy="303.1" r="0.69" fill="#7070b0"/>
<circle cx="452.6" cy="304.9" r="1.85" fill="#fff" stroke="#ee1111" stroke-width="0.45"/>
<path d="M452.6,302.8 A2.1,2.1 0 0 1 452.6,307 Z" fill="#ee1111"/>
<circle cx="463.7" cy="332.2" r="2.1" fill="#1c1c8a"/>
<circle cx="463.9" cy="331.7" r="0.69" fill="#7070b0"/>
<circle cx="463.7" cy="314.8" r="1.85" fill="#fff" stroke="#ee1111" stroke-width="0.45"/>
<path d="M463.7,312.7 A2.1,2.1 0 0 1 463.7,316.9 Z" fill="#ee1111"/>
<circle cx="474.8" cy="344" r="2.1" fill="#1c1c8a"/>
<circle cx="475" cy="343.5" r="0.69" fill="#7070b0"/>
<circle cx="474.8" cy="320.1" r="1.85" fill="#fff" stroke="#ee1111" stroke-width="0.45"/>
<path d="M474.8,318 A2.1,2.1 0 0 1 474.8,322.2 Z" fill="#ee1111"/>
<circle cx="485.9" cy="360.5" r="2.1" fill="#1c1c8a"/>
<circle cx="486.1" cy="360" r="0.69" fill="#7070b0"/>
<circle cx="485.9" cy="329.7" r="1.85" fill="#fff" stroke="#ee1111" stroke-width="0.45"/>
<path d="M485.9,327.6 A2.1,2.1 0 0 1 485.9,331.8 Z" fill="#ee1111"/>
<circle cx="497" cy="375.6" r="2.1" fill="#1c1c8a"/>
<circle cx="497.2" cy="375.1" r="0.69" fill="#7070b0"/>
<circle cx="497" cy="340.4" r="1.85" fill="#fff" stroke="#ee1111" stroke-width="0.45"/>
<path d="M497,338.3 A2.1,2.1 0 0 1 497,342.5 Z" fill="#ee1111"/>
<circle cx="508.1" cy="387" r="2.1" fill="#1c1c8a"/>
<circle cx="508.3" cy="386.5" r="0.69" fill="#7070b0"/>
<circle cx="508.1" cy="350.1" r="1.85" fill="#fff" stroke="#ee1111" stroke-width="0.45"/>
<path d="M508.1,348 A2.1,2.1 0 0 1 508.1,352.2 Z" fill="#ee1111"/>
<circle cx="519.2" cy="400.4" r="2.1" fill="#1c1c8a"/>
<circle cx="519.4" cy="399.9" r="0.69" fill="#7070b0"/>
<circle cx="519.2" cy="366.4" r="1.85" fill="#fff" stroke="#ee1111" stroke-width="0.45"/>
<path d="M519.2,364.3 A2.1,2.1 0 0 1 519.2,368.5 Z" fill="#ee1111"/>
<circle cx="530.3" cy="406.4" r="2.1" fill="#1c1c8a"/>
<circle cx="530.5" cy="405.9" r="0.69" fill="#7070b0"/>
<circle cx="530.3" cy="375.4" r="1.85" fill="#fff" stroke="#ee1111" stroke-width="0.45"/>
<path d="M530.3,373.3 A2.1,2.1 0 0 1 530.3,377.5 Z" fill="#ee1111"/>
<circle cx="541.4" cy="413.6" r="2.1" fill="#1c1c8a"/>
<circle cx="541.6" cy="413.1" r="0.69" fill="#7070b0"/>
<circle cx="541.4" cy="388" r="1.85" fill="#fff" stroke="#ee1111" stroke-width="0.45"/>
<path d="M541.4,385.9 A2.1,2.1 0 0 1 541.4,390.1 Z" fill="#ee1111"/>
<circle cx="552.5" cy="417" r="2.1" fill="#1c1c8a"/>
<circle cx="552.7" cy="416.5" r="0.69" fill="#7070b0"/>
<circle cx="552.5" cy="395.4" r="1.85" fill="#fff" stroke="#ee1111" stroke-width="0.45"/>
<path d="M552.5,393.3 A2.1,2.1 0 0 1 552.5,397.5 Z" fill="#ee1111"/>
<circle cx="563.6" cy="420" r="2.1" fill="#1c1c8a"/>
<circle cx="563.8" cy="419.5" r="0.69" fill="#7070b0"/>
<circle cx="563.6" cy="402.2" r="1.85" fill="#fff" stroke="#ee1111" stroke-width="0.45"/>
<path d="M563.6,400.1 A2.1,2.1 0 0 1 563.6,404.3 Z" fill="#ee1111"/>
<circle cx="574.7" cy="421.3" r="2.1" fill="#1c1c8a"/>
<circle cx="574.9" cy="420.8" r="0.69" fill="#7070b0"/>
<circle cx="574.7" cy="405.1" r="1.85" fill="#fff" stroke="#ee1111" stroke-width="0.45"/>
<path d="M574.7,403 A2.1,2.1 0 0 1 574.7,407.2 Z" fill="#ee1111"/>
<circle cx="585.8" cy="421.4" r="2.1" fill="#1c1c8a"/>
<circle cx="586" cy="420.9" r="0.69" fill="#7070b0"/>
<circle cx="585.8" cy="405.1" r="1.85" fill="#fff" stroke="#ee1111" stroke-width="0.45"/>
<path d="M585.8,403 A2.1,2.1 0 0 1 585.8,407.2 Z" fill="#ee1111"/>
<circle cx="596.9" cy="422.6" r="2.1" fill="#1c1c8a"/>
<circle cx="597.1" cy="422.1" r="0.69" fill="#7070b0"/>
<circle cx="596.9" cy="408.1" r="1.85" fill="#fff" stroke="#ee1111" stroke-width="0.45"/>
<path d="M596.9,406 A2.1,2.1 0 0 1 596.9,410.2 Z" fill="#ee1111"/>
<circle cx="608" cy="422.6" r="2.1" fill="#1c1c8a"/>
<circle cx="608.2" cy="422.1" r="0.69" fill="#7070b0"/>
<circle cx="608" cy="408.1" r="1.85" fill="#fff" stroke="#ee1111" stroke-width="0.45"/>
<path d="M608,406 A2.1,2.1 0 0 1 608,410.2 Z" fill="#ee1111"/>
<circle cx="630.2" cy="422.6" r="2.1" fill="#1c1c8a"/>
<circle cx="630.4" cy="422.1" r="0.69" fill="#7070b0"/>
<circle cx="630.2" cy="408.1" r="1.85" fill="#fff" stroke="#ee1111" stroke-width="0.45"/>
<path d="M630.2,406 A2.1,2.1 0 0 1 630.2,410.2 Z" fill="#ee1111"/>
<circle cx="472.1" cy="265.2" r="2" fill="#1c1c8a"/>
<circle cx="472.3" cy="264.7" r="0.66" fill="#7070b0"/>
<circle cx="472.1" cy="281.6" r="1.85" fill="#fff" stroke="#ee1111" stroke-width="0.45"/>
<path d="M472.1,279.5 A2.1,2.1 0 0 1 472.1,283.7 Z" fill="#ee1111"/>
<text x="487.2" y="268.9" font-size="11.5" font-weight="bold" fill="#1c1c8a" stroke="#1c1c8a" stroke-width="0.3" textLength="137" lengthAdjust="spacingAndGlyphs">Measured water mass (mg)</text>
<text x="487.2" y="284.9" font-size="11.5" font-weight="bold" fill="#ee1111" stroke="#ee1111" stroke-width="0.3" textLength="114.7" lengthAdjust="spacingAndGlyphs">% of water in phantom</text>
<text x="430.2" y="403.2" font-size="15" font-weight="normal" fill="#222" textLength="17.6" lengthAdjust="spacingAndGlyphs">(d)</text>
<text x="458" y="470.3" font-size="14" font-weight="bold" fill="#111" stroke="#111" stroke-width="0.3" textLength="128" lengthAdjust="spacingAndGlyphs">Time delay (minute)</text>
<text x="380.6" y="420.5" font-size="14" font-weight="bold" fill="#1c1c8a" stroke="#1c1c8a" stroke-width="0.3" textLength="172.4" lengthAdjust="spacingAndGlyphs" transform="rotate(-90 380.6 420.5)">Measured water mass (mg)</text>
<text x="673.2" y="273.6" font-size="14" font-weight="bold" fill="#ee1111" stroke="#ee1111" stroke-width="0.3" textLength="139.4" lengthAdjust="spacingAndGlyphs" transform="rotate(90 673.2 273.6)">Water percentage (%)</text>
<line x1="415.6" y1="252.6" x2="641.6" y2="252.6" stroke="#666" stroke-width="1.8"/>
<line x1="414.9" y1="434.1" x2="642.3" y2="434.1" stroke="#3c3c3c" stroke-width="1.4"/>
<line x1="415.6" y1="251.9" x2="415.6" y2="434.1" stroke="#1c1c8a" stroke-width="1.4"/>
<line x1="641.6" y1="251.9" x2="641.6" y2="434.8" stroke="#ee1111" stroke-width="1.4"/>
</svg>
</body></html>
